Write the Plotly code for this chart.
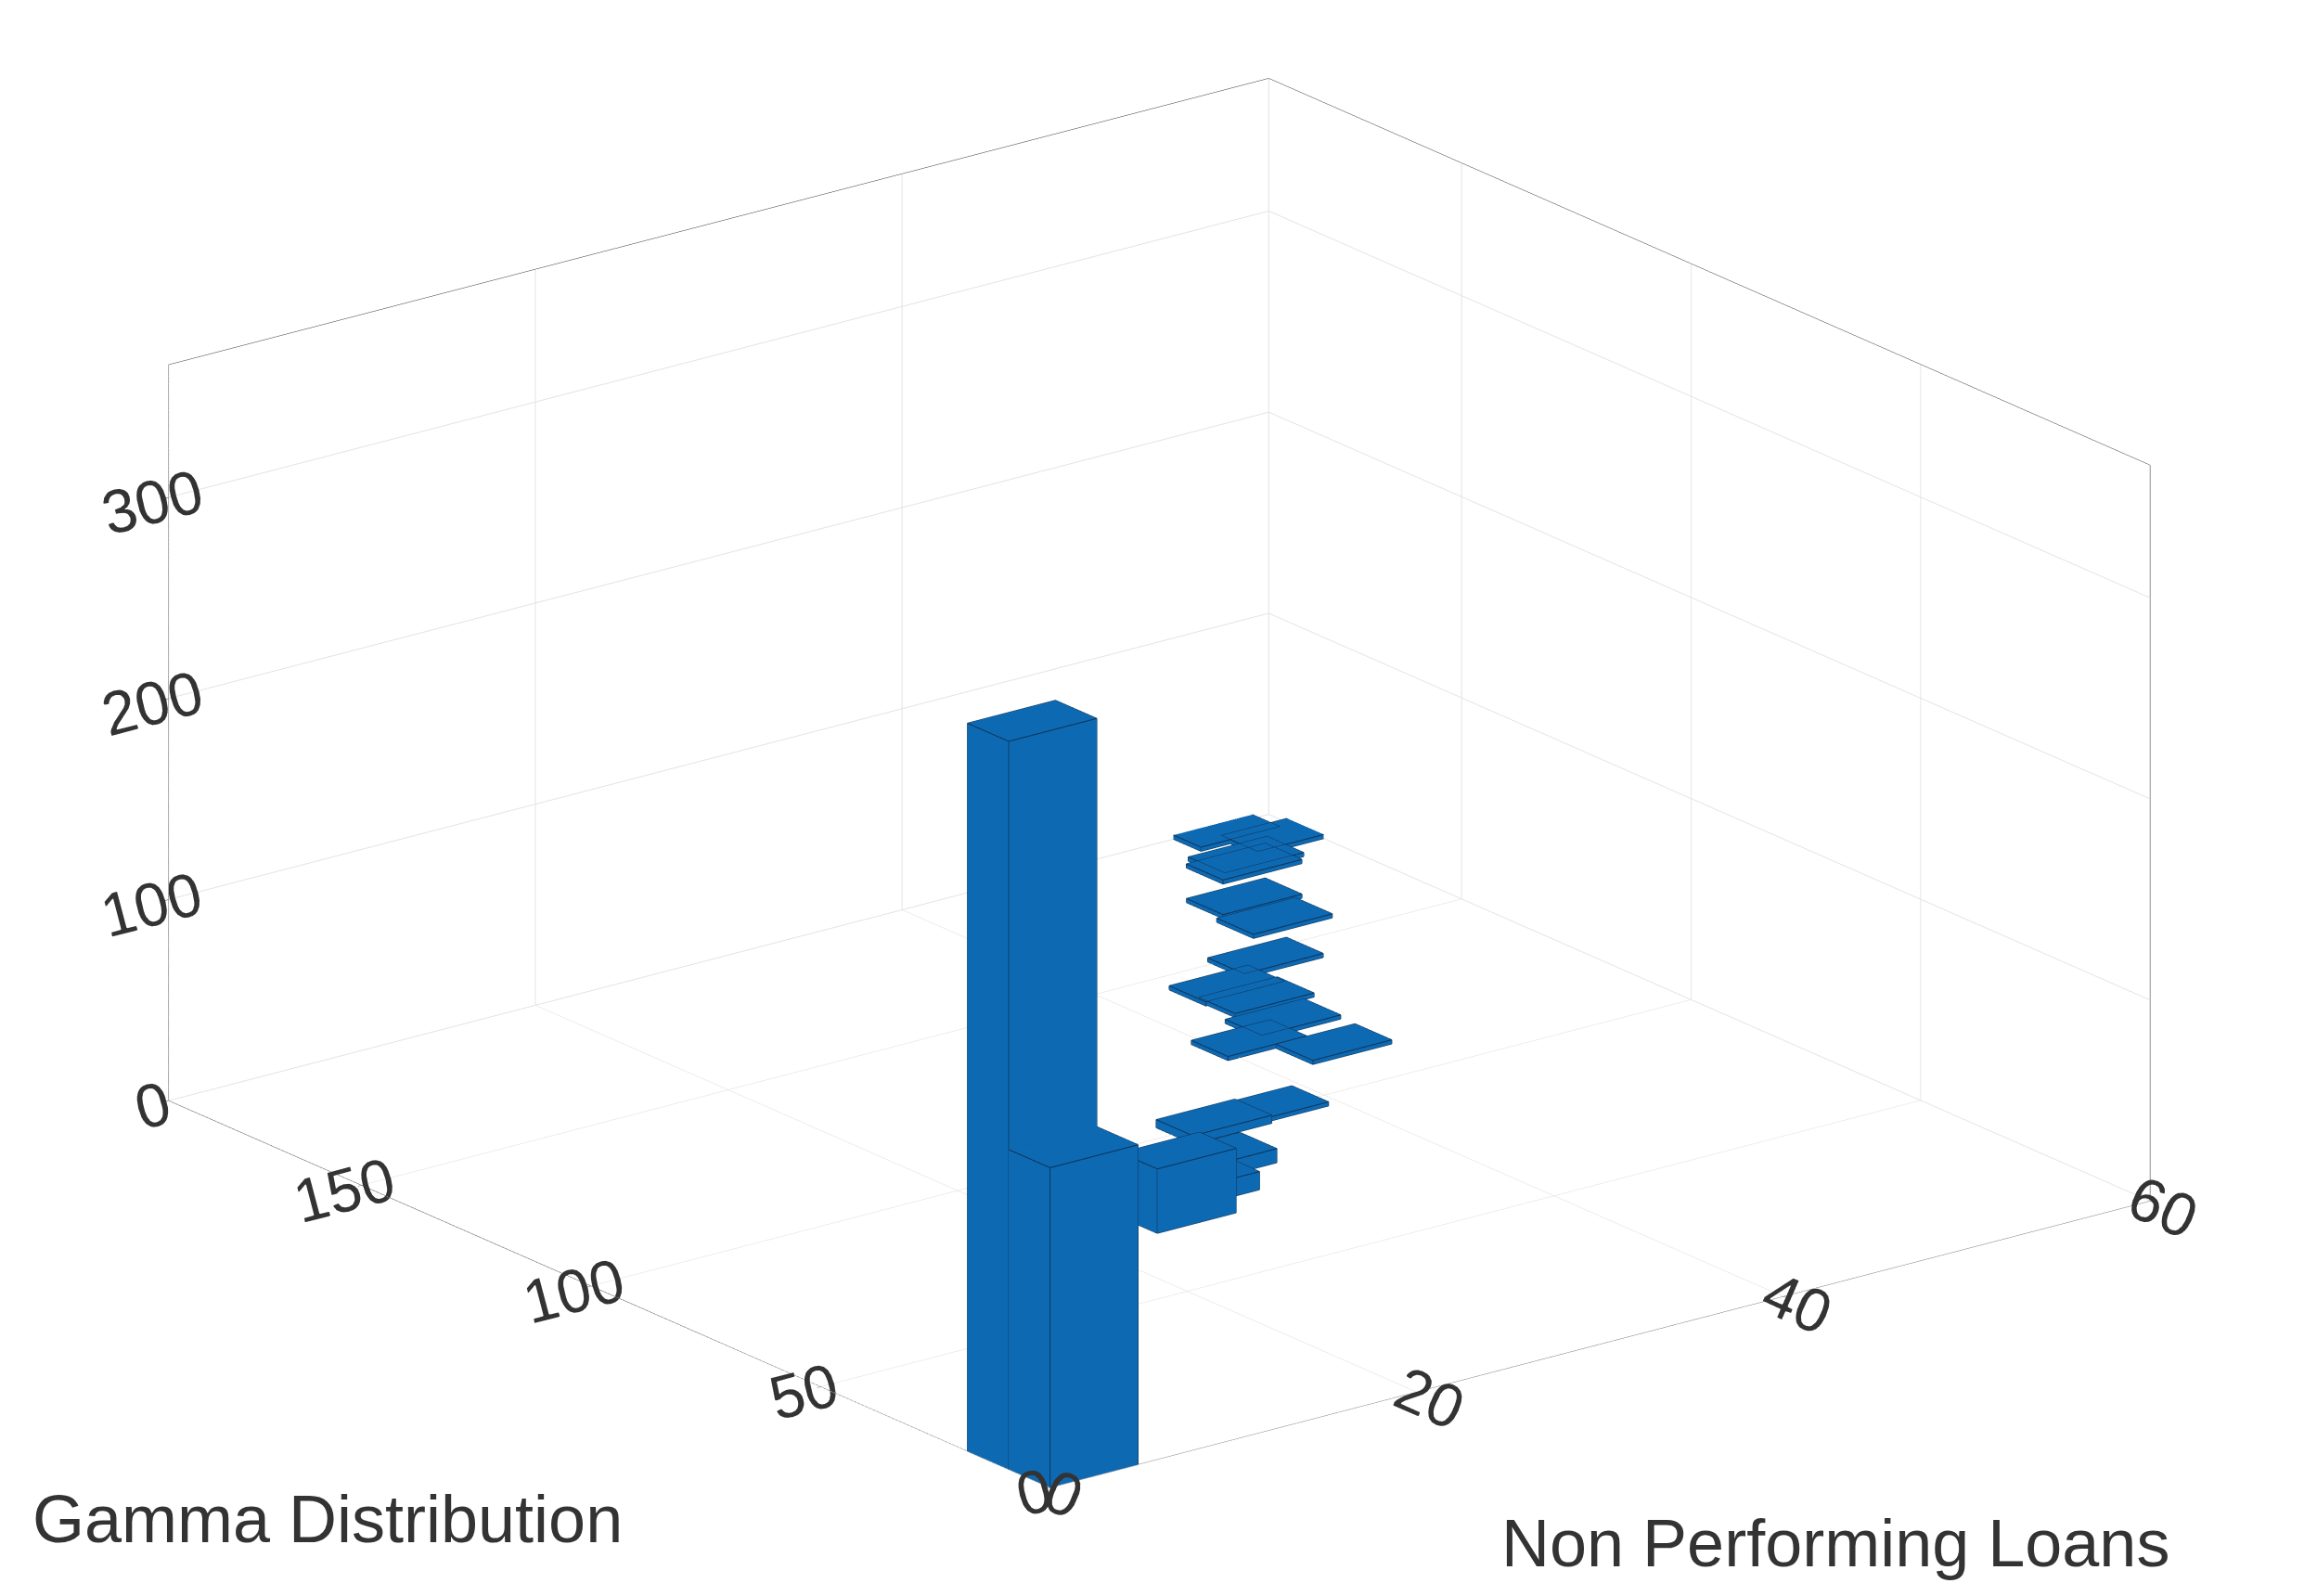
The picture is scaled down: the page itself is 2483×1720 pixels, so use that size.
import plotly.graph_objects as go

# bin positions (left/front edges) and counts
npl_lo   = [0.0, 0.0, 23.5, 26.1, 28.8, 31.7, 35.0, 39.4, 42.0, 43.0, 42.2, 42.9, 46.4, 49.8, 50.3, 53.0, 53.6, 56.4, 54.8]
gamma_lo = [9.0, 0.0, 70.5, 75.8, 82.8, 95.5, 96.3, 118.6, 110.5, 131.4, 122.4, 137.4, 143.0, 154.6, 163.2, 174.0, 176.0, 180.0, 186.0]
counts   = [362, 159, 32, 9, 7, 4, 2, 2, 2, 2, 2, 2, 2, 2, 2, 2, 2, 2, 2]
widths_x = [4.8, 4.8, 4.3, 4.3, 4.3, 4.3, 4.3, 4.3, 4.3, 4.3, 4.3, 4.3, 4.3, 4.3, 4.3, 4.3, 4.3, 4.3, 4.3]
widths_y = [9.0, 9.0, 8.0, 8.0, 8.0, 8.0, 8.0, 8.0, 8.0, 8.0, 8.0, 8.0, 8.0, 8.0, 8.0, 8.0, 8.0, 8.0, 8.0]

fig = go.Figure()
ex, ey, ez = [], [], []
for x0, y0, h, wx, wy in zip(npl_lo, gamma_lo, counts, widths_x, widths_y):
    x1, y1 = x0 + wx, y0 + wy
    X = [x0, x1, x1, x0, x0, x1, x1, x0]
    Y = [y0, y0, y1, y1, y0, y0, y1, y1]
    Z = [0, 0, 0, 0, h, h, h, h]
    fig.add_trace(go.Mesh3d(
        x=X, y=Y, z=Z,
        i=[0, 0, 4, 4, 0, 0, 1, 1, 2, 2, 3, 3],
        j=[1, 2, 5, 6, 1, 5, 2, 6, 3, 7, 0, 4],
        k=[2, 3, 6, 7, 5, 4, 6, 5, 7, 6, 4, 7],
        color='#1283E0', flatshading=True, opacity=1,
        lighting=dict(ambient=0.8, diffuse=0.5, specular=0.0, roughness=1, fresnel=0),
        lightposition=dict(x=0, y=-20000, z=100000),
        showscale=False, hoverinfo='skip'))
    for a, b in [(0,1),(1,2),(2,3),(3,0),(4,5),(5,6),(6,7),(7,4),(0,4),(1,5),(2,6),(3,7)]:
        ex += [X[a], X[b], None]; ey += [Y[a], Y[b], None]; ez += [Z[a], Z[b], None]
fig.add_trace(go.Scatter3d(x=ex, y=ey, z=ez, mode='lines',
                           line=dict(color='#0b2f4f', width=2), hoverinfo='skip', showlegend=False))

ax = dict(showbackground=False, gridcolor='#e3e3e3', linecolor='#333333', showline=True,
          tickfont=dict(size=28, color='#333333', family='Liberation Sans'),
          zeroline=False, mirror=True, ticks='outside', tickcolor='#333333',
          title=dict(text=''), showspikes=False)
fig.update_layout(
    width=2483, height=1720, showlegend=False, paper_bgcolor='white',
    margin=dict(l=0, r=0, t=0, b=0),
    scene=dict(
        domain=dict(x=[0.0, 1.0], y=[0.0, 1.0]),
        xaxis=dict(ax, range=[0, 60], tickvals=[0, 20, 40, 60]),
        yaxis=dict(ax, range=[0, 192], tickvals=[0, 50, 100, 150]),
        zaxis=dict(ax, range=[0, 366], tickvals=[0, 100, 200, 300]),
        aspectmode='manual', aspectratio=dict(x=1.74, y=1.81, z=0.98),
        camera=dict(eye=dict(x=-1.22, y=-1.584, z=0.688),
                    center=dict(x=0, y=0, z=-0.03),
                    projection=dict(type='orthographic')),
    ),
    annotations=[
        dict(text='Gamma Distribution', x=0.01, y=0.053, xref='paper', yref='paper',
             xanchor='left', yanchor='middle', showarrow=False,
             font=dict(size=72, color='#333333', family='Liberation Sans')),
        dict(text='Non Performing Loans', x=0.939, y=0.038, xref='paper', yref='paper',
             xanchor='right', yanchor='middle', showarrow=False,
             font=dict(size=72, color='#333333', family='Liberation Sans')),
    ])
fig.write_html("out.html")
